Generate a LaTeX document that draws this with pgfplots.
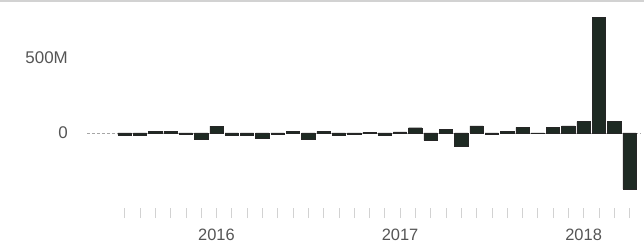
\documentclass[border=0pt]{standalone}
\usepackage{pgfplots}
\pgfplotsset{compat=1.18}
\usepackage{fontspec}
\setmainfont{Liberation Sans}
\definecolor{barc}{HTML}{1E2A23}
\definecolor{txt}{HTML}{555555}
\begin{document}
\begin{tikzpicture}
\begin{axis}[
  at={(87bp,41bp)}, anchor=south west,
  scale only axis, width=554bp, height=197bp,
  xmin=-2.46, xmax=33.75, ymin=-480, ymax=833,
  axis line style={draw=none},
  ybar, bar width=0.87, bar shift=0pt,
  tick align=outside,
  xtick pos=bottom, ytick pos=left,
  xtick={0,...,33},
  xticklabels={,,,,,,2016,,,,,,,,,,,,2017,,,,,,,,,,,,2018,,,},
  major tick length=10bp,
  x tick style={gray!35, line width=0.6bp, yshift=-3bp},
  xticklabel style={font=\fontsize{16.5}{16.5}\selectfont, text=txt, anchor=north, inner sep=0pt, yshift=-14bp},
  ytick={0,500},
  yticklabels={0,500M},
  y tick style={draw=none},
  minor ytick={-400,-300,-200,-100,100,200,300,400,600,700,800},
  minor y tick style={gray!20, line width=0.8bp, xshift=-4bp},
  minor tick length=3bp,
  yticklabel style={font=\fontsize{17}{17}\selectfont, text=txt, anchor=east, inner sep=0pt, xshift=-9bp},
  extra y ticks={0},
  extra y tick labels={},
  extra y tick style={grid=major, grid style={gray!70, densely dashed, line width=0.6bp}},
  clip=false,
]
\addplot[fill=barc, draw=black!85, line width=0.4bp] coordinates {
(0,-12) (1,-12) (2,12) (3,12) (4,-5) (5,-42) (6,45) (7,-12) (8,-12) (9,-38)
(10,-5) (11,10) (12,-40) (13,10) (14,-12) (15,-8) (16,5) (17,-12) (18,8) (19,35)
(20,-50) (21,25) (22,-87) (23,48) (24,-5) (25,13) (26,37) (27,-3) (28,37) (29,48)
(30,76) (31,770) (32,76) (33,-375)
};
\end{axis}
\draw[gray!35, line width=1.5bp] (0,245.2bp) -- (644bp,245.2bp);
\pgfresetboundingbox
\useasboundingbox (0,0) rectangle (644bp,246bp);
\end{tikzpicture}
\end{document}
